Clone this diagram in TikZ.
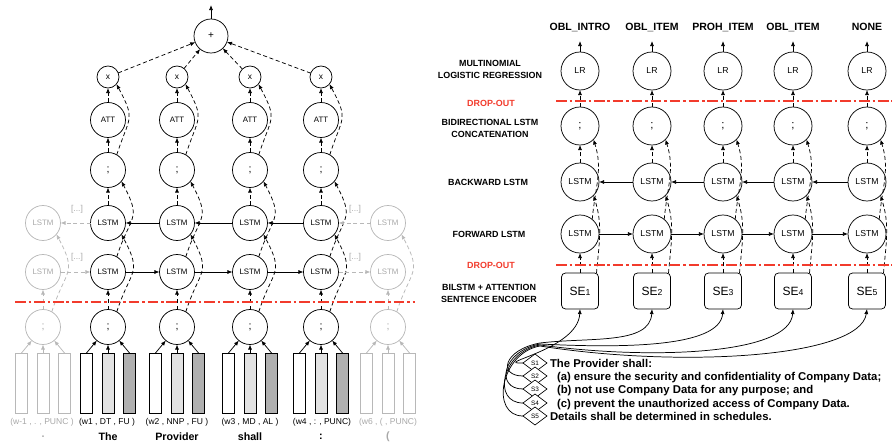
\documentclass[tikz,border=0pt]{standalone}
\usepackage{fontspec}
\setmainfont{Liberation Sans}
\usetikzlibrary{arrows.meta,shapes.geometric,calc}

\definecolor{gcol}{HTML}{B8B8B8}
\definecolor{gtxt}{HTML}{A8A8A8}
\definecolor{dropred}{HTML}{F23B2C}
\definecolor{lgray}{HTML}{E2E2E2}
\definecolor{dgray}{HTML}{B0B0B0}

\begin{document}
\begin{tikzpicture}[x=0.75pt,y=0.75pt,
  >={Latex[length=3.8pt,width=3pt]},
  every node/.style={inner sep=0pt, outer sep=0pt},
  lc/.style={circle, draw, line width=0.55pt, minimum size=26.25pt, font=\fontsize{5.9}{6}\selectfont},
  rc/.style={circle, draw, line width=0.55pt, minimum size=28.5pt, font=\fontsize{6.5}{7}\selectfont},
  semi/.style={font=\fontsize{8}{8}\selectfont},
  mulc/.style={circle, draw, line width=0.55pt, minimum size=16.5pt, font=\fontsize{6.3}{6}\selectfont},
  gc/.style={draw=gcol, text=gtxt},
  wbar/.style={draw, line width=0.55pt, minimum width=9pt, minimum height=45pt},
  sebox/.style={draw, rounded corners=3pt, line width=0.55pt, minimum width=27.75pt, minimum height=27pt, font=\fontsize{9}{9}\selectfont},
  dia/.style={diamond, draw, fill=white, line width=0.5pt, aspect=1.33, minimum width=18pt, minimum height=13.5pt, font=\fontsize{4.8}{5}\selectfont},
  conn/.style={->, line width=0.55pt},
  gconn/.style={->, line width=0.55pt, draw=gcol},
  dsh/.style={->, line width=0.55pt, dash pattern=on 3pt off 2pt},
  gdsh/.style={->, line width=0.55pt, dash pattern=on 3pt off 2pt, draw=gcol},
  skip/.style={out=72, in=-62, looseness=1.5},
  rskip/.style={out=85, in=-72, looseness=1},
  drop/.style={draw=dropred, line width=1.1pt, dash pattern=on 8pt off 2.2pt on 1.8pt off 2.2pt},
  wlab/.style={font=\fontsize{6.4}{7}\selectfont},
  wword/.style={font=\bfseries\fontsize{8}{8}\selectfont},
  side/.style={font=\bfseries\fontsize{6.7}{9}\selectfont, align=center},
  clab/.style={font=\bfseries\fontsize{7.9}{8}\selectfont},
  body/.style={anchor=base west, font=\bfseries\fontsize{8.5}{9}\selectfont},
  dots/.style={text=gtxt, font=\fontsize{6.4}{7}\selectfont}
]
\useasboundingbox (0,0) rectangle (892,-445);

% ===================== word-level encoder =====================
\node[lc, minimum size=25.5pt, font=\fontsize{7.5}{8}\selectfont] (plus) at (211,-36) {+};
\coordinate (outtop) at (211,-5);
\draw[conn] (plus) -- (outtop);

\foreach \i/\x in {1/108,2/177,3/250,4/321} {
  \node[mulc] (mul\i) at (\x,-77) {x};
  \node[lc] (att\i) at (\x,-120) {ATT};
  \node[lc, semi] (hi\i) at (\x,-170) {;};
  \node[lc] (bw\i) at (\x,-223) {LSTM};
  \node[lc] (fw\i) at (\x,-272) {LSTM};
  \node[lc, semi] (lo\i) at (\x,-327) {;};
  \node[wbar, fill=white] (wa\i) at (\x-21.5,-383) {};
  \node[wbar, fill=lgray] (wb\i) at (\x,-383) {};
  \node[wbar, fill=dgray] (wc\i) at (\x+21.5,-383) {};
  \draw[conn] (wa\i.north) -- (lo\i);
  \draw[conn] (wb\i.north) -- (lo\i);
  \draw[conn] (wc\i.north) -- (lo\i);
  \draw[dsh] (lo\i) -- (fw\i);
  \draw[dsh] (bw\i) -- (hi\i);
  \draw[dsh] (hi\i) -- (att\i);
  \draw[dsh] (att\i) -- (mul\i);
  \draw[dsh] (mul\i) -- (plus);
  \draw[dsh] (lo\i.60) to[skip] (bw\i.-40);
  \draw[dsh] (fw\i.60) to[skip] (hi\i.-40);
  \draw[dsh] (hi\i.60) to[skip] (mul\i.-40);
}

% recurrent connections
\draw[conn] (fw1) -- (fw2);
\draw[conn] (fw2) -- (fw3);
\draw[conn] (fw3) -- (fw4);
\draw[conn] (bw4) -- (bw3);
\draw[conn] (bw3) -- (bw2);
\draw[conn] (bw2) -- (bw1);

% neighbouring (faded) time steps
\foreach \g/\x in {L/43,R/388} {
  \node[lc, gc] (g\g bw) at (\x,-223) {LSTM};
  \node[lc, gc] (g\g fw) at (\x,-272) {LSTM};
  \node[lc, gc, semi] (g\g lo) at (\x,-327) {;};
  \node[wbar, draw=gcol, fill=white] (g\g a) at (\x-21.5,-383) {};
  \node[wbar, draw=gcol, fill=white] (g\g b) at (\x,-383) {};
  \node[wbar, draw=gcol, fill=white] (g\g c) at (\x+21.5,-383) {};
  \draw[gconn] (g\g a.north) -- (g\g lo);
  \draw[gconn] (g\g b.north) -- (g\g lo);
  \draw[gconn] (g\g c.north) -- (g\g lo);
  \draw[gdsh] (g\g lo) -- (g\g fw);
  \draw[gdsh] (g\g lo.60) to[skip] (g\g bw.-40);
}
\draw[gdsh] (gLfw) -- (fw1);
\draw[gdsh] (bw1) -- (gLbw);
\draw[gdsh] (fw4) -- (gRfw);
\draw[gdsh] (gRbw) -- (bw4);
\node[dots] (dl1) at (77,-209) {[...]};
\node[dots] (dl2) at (77,-257) {[...]};
\node[dots] (dr1) at (355,-209) {[...]};
\node[dots] (dr2) at (355,-257) {[...]};

\coordinate (dropLa) at (15,-302);
\coordinate (dropLb) at (415,-302);
\draw[drop] (dropLa) -- (dropLb);

% token labels
\node[wlab, text=gtxt] (lab0) at (42,-422) {(w-1 , . , PUNC )};
\node[wlab] (lab1) at (107,-422) {(w1 , DT , FU )};
\node[wlab] (lab2) at (177,-422) {(w2 , NNP , FU )};
\node[wlab] (lab3) at (250,-422) {(w3 , MD , AL )};
\node[wlab] (lab4) at (322,-422) {(w4 , : , PUNC)};
\node[wlab, text=gtxt] (lab6) at (388,-422) {(w6 , ( , PUNC)};
\node[wword, text=gtxt] (tok0) at (43,-437) {.};
\node[wword] (tok1) at (108,-437) {The};
\node[wword] (tok2) at (177,-437) {Provider};
\node[wword] (tok3) at (250,-437) {shall};
\node[wword] (tok4) at (321,-437) {:};
\node[wword, text=gtxt] (tok6) at (388,-437) {(};

% ===================== sentence-level tagger =====================
\node[side] (sLR) at (490,-69) {MULTINOMIAL\\LOGISTIC REGRESSION};
\node[side, text=dropred] (sD1) at (491,-103) {DROP-OUT};
\node[side] (sCat) at (490,-128) {BIDIRECTIONAL LSTM\\CONCATENATION};
\node[side] (sBw) at (488,-182) {BACKWARD LSTM};
\node[side] (sFw) at (489,-234) {FORWARD LSTM};
\node[side, text=dropred] (sD2) at (491,-265) {DROP-OUT};
\node[side] (sSE) at (489,-293) {BILSTM + ATTENTION\\SENTENCE ENCODER};

\foreach \i/\x/\t in {1/580/OBL\_INTRO,2/652/OBL\_ITEM,3/723/PROH\_ITEM,4/793/OBL\_ITEM,5/867/NONE} {
  \node[clab] (tag\i) at (\x,-27) {\t};
  \coordinate (tip\i) at (\x,-41);
  \node[rc] (rlr\i) at (\x,-71) {LR};
  \node[rc, semi, font=\fontsize{8.5}{8}\selectfont] (rcat\i) at (\x,-126) {;};
  \node[rc] (rbw\i) at (\x,-182) {LSTM};
  \node[rc] (rfw\i) at (\x,-234) {LSTM};
  \node[sebox] (se\i) at (\x,-291) {SE{\fontsize{6.5}{6.5}\selectfont\i}};
  \draw[conn] (rlr\i) -- (tip\i);
  \draw[dsh] (rcat\i) -- (rlr\i);
  \draw[dsh] (rbw\i) -- (rcat\i);
  \draw[dsh] (se\i) -- (rfw\i);
  \draw[dsh] ($(se\i.north east)+(-2,0)$) to[rskip] (rbw\i.-45);
  \draw[dsh] (rfw\i.50) to[rskip] (rcat\i.-45);
}
\draw[conn] (rfw1) -- (rfw2);
\draw[conn] (rfw2) -- (rfw3);
\draw[conn] (rfw3) -- (rfw4);
\draw[conn] (rfw4) -- (rfw5);
\draw[conn] (rbw5) -- (rbw4);
\draw[conn] (rbw4) -- (rbw3);
\draw[conn] (rbw3) -- (rbw2);
\draw[conn] (rbw2) -- (rbw1);

\coordinate (dropRa1) at (556,-101);
\coordinate (dropRb1) at (892,-101);
\coordinate (dropRa2) at (556,-265);
\coordinate (dropRb2) at (892,-265);
\draw[drop] (dropRa1) -- (dropRb1);
\draw[drop] (dropRa2) -- (dropRb2);

% sentences of the clause
\coordinate (sp1) at (535,-363);
\coordinate (sp2) at (535,-376);
\coordinate (sp3) at (535,-389);
\coordinate (sp4) at (535,-403);
\coordinate (sp5) at (535,-416);
\foreach \i in {1,...,5} {
  \node[dia, draw=none, fill=none] (s\i) at (sp\i) {\phantom{S\i}};
}

\draw[conn] (s1.west) .. controls (490,-364) and (578,-350) .. (se1.south);
\draw[conn] (s2.west) .. controls (498,-376) and (503,-350) .. (540,-343)
  .. controls (590,-337) and (650,-345) .. (se2.south);
\draw[conn] (s3.west) .. controls (495,-389) and (502,-351) .. (540,-344)
  .. controls (620,-348) and (720,-348) .. (se3.south);
\draw[conn] (s4.west) .. controls (492,-403) and (501,-352) .. (540,-345)
  .. controls (650,-360) and (790,-355) .. (se4.south);
\draw[conn] (s5.west) .. controls (490,-416) and (500,-353) .. (540,-346)
  .. controls (680,-368) and (860,-358) .. (se5.south);

\foreach \i in {1,...,5} {
  \node[dia] (d\i) at (sp\i) {S\i};
}

\node[body] (ln1) at (550,-367) {The Provider shall:};
\node[body] (ln2) at (557,-380) {(a) ensure the security and confidentiality of Company Data;};
\node[body] (ln3) at (557,-393) {(b) not use Company Data for any purpose; and};
\node[body] (ln4) at (557,-407) {(c) prevent the unauthorized access of Company Data.};
\node[body] (ln5) at (550,-420) {Details shall be determined in schedules.};
\end{tikzpicture}
\end{document}
